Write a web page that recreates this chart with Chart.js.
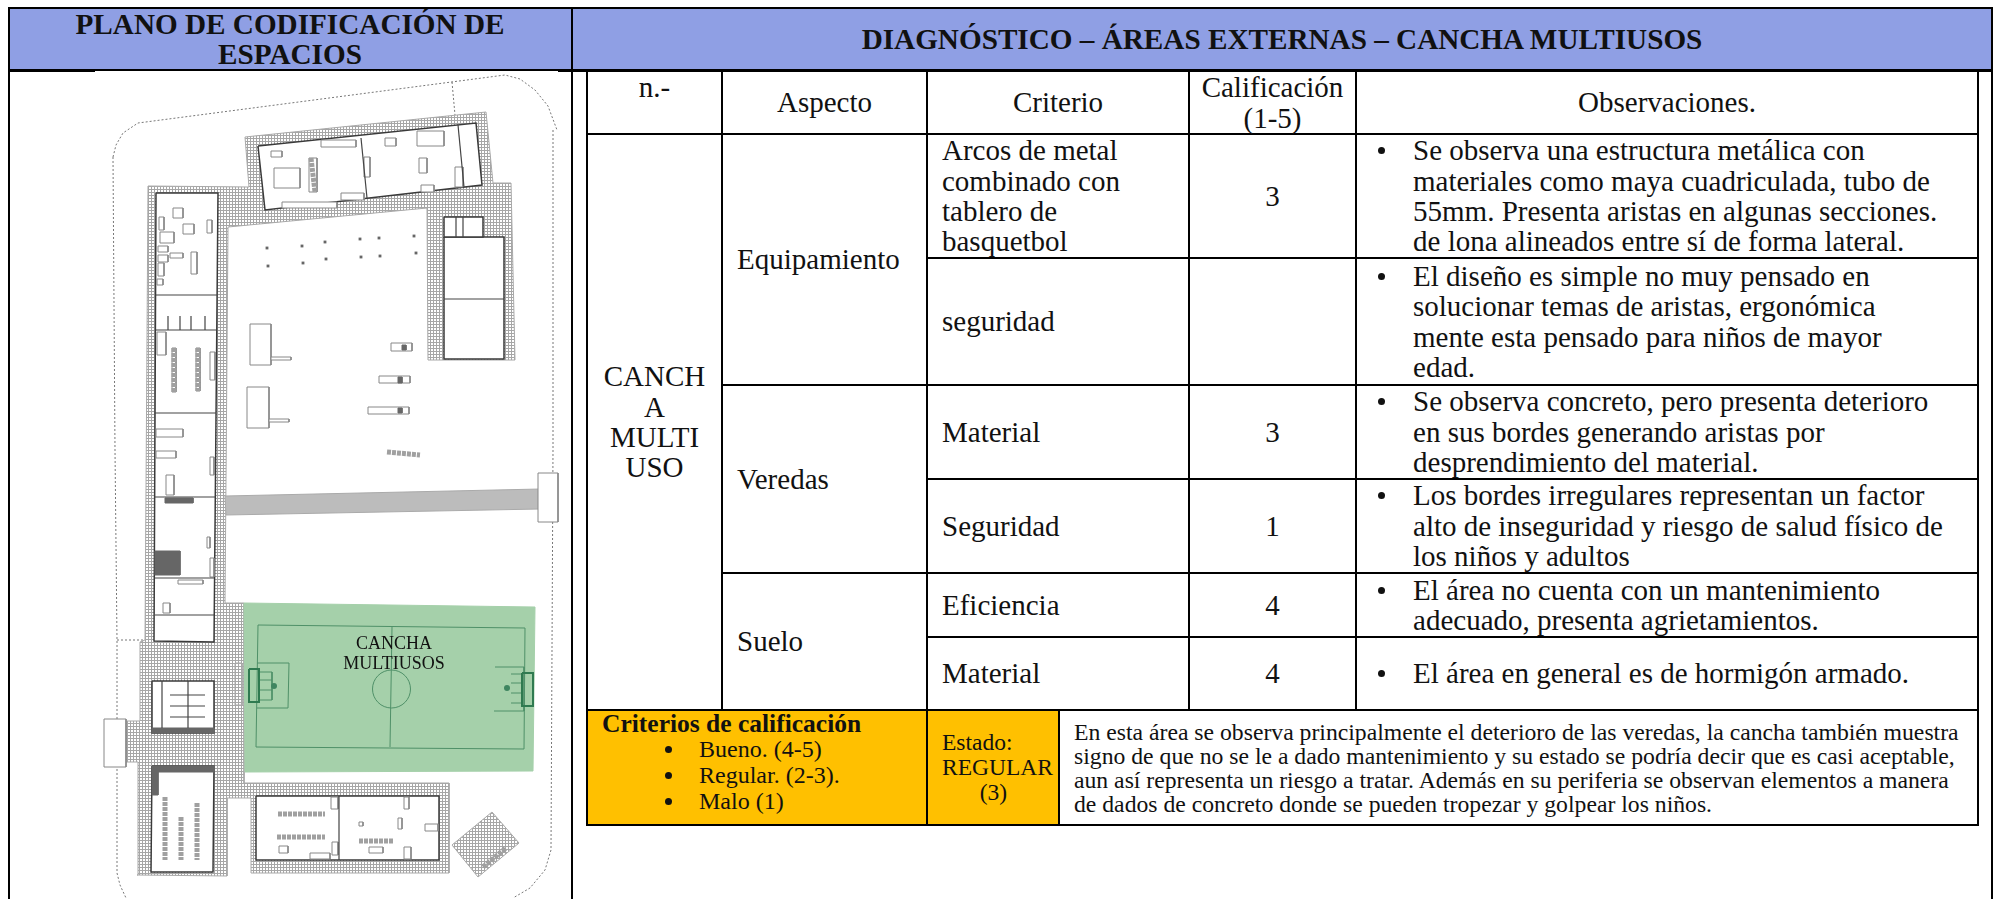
<!DOCTYPE html>
<html>
<head>
<meta charset="utf-8">
<title>Diagnóstico – Cancha multiusos</title>
<script src="https://cdn.jsdelivr.net/npm/chart.js@4"></script>
<style>
  html, body { margin: 0; padding: 0; background: #fff; }
  body { width: 1993px; height: 899px; position: relative; overflow: hidden; font-family: "Liberation Serif", serif; color: #111; }
  .abs { position: absolute; }
  .head { background: #8f9fe4; font-weight: bold; text-align: center; display: flex; align-items: center; justify-content: center; white-space: nowrap; top: 8px; height: 62px; }
  #headLeft { left: 8px; width: 564px; font-size: 29.2px; line-height: 30px; }
  #headRight { left: 572px; width: 1420px; font-size: 29.2px; }
  #lineTop { left: 8px; top: 7px; width: 1985px; height: 2px; background: #000; }
  #lineHead { left: 8px; top: 69px; width: 1985px; height: 3px; background: #000; }
  #lineThin { left: 95px; top: 71px; width: 463px; height: 1px; background: #fff; }
  #lineLeft { left: 8px; top: 7px; width: 2px; height: 892px; background: #000; }
  #lineMid { left: 571px; top: 7px; width: 2px; height: 892px; background: #000; }
  #lineRight { left: 1991px; top: 7px; width: 2px; height: 892px; background: #000; }
  #planWrap { left: 10px; top: 72px; width: 561px; height: 827px; }
  #courtLabel { left: 334px; top: 633px; width: 120px; text-align: center; font-size: 18px; line-height: 20px; }
  table { position: absolute; left: 586px; top: 70px; border-collapse: collapse; table-layout: fixed; width: 1391px; font-size: 29px; line-height: 30.4px; }
  td { border: 2px solid #000; padding: 0; vertical-align: middle; white-space: nowrap; }
  .c { text-align: center; }
  .l { padding-left: 14px; }
  .obs { padding-left: 56px; }
  .obs div { position: relative; }
  .obs div::before { content: ""; position: absolute; left: -35px; top: 12px; width: 7px; height: 7px; border-radius: 50%; background: #111; }
  .orange { background: #ffc000; font-size: 23.5px; line-height: 25px; }
  .estado { width: 103px; text-align: center; }
  .estado span { display: block; text-align: left; }
  .note { font-size: 23.7px; line-height: 24px; padding-left: 14px; }
  .crit { padding-left: 14px; vertical-align: top; }
  .crit b { display: block; font-size: 25.5px; line-height: 25px; }
  .crit div { position: relative; padding-left: 97px; font-size: 24px; line-height: 26px; }
  .crit div::before { content: ""; position: absolute; left: 63px; top: 10px; width: 7px; height: 7px; border-radius: 50%; background: #111; }
</style>
</head>
<body>
<div class="abs head" id="headLeft">PLANO DE CODIFICACIÓN DE<br>ESPACIOS</div>
<div class="abs head" id="headRight">DIAGNÓSTICO – ÁREAS EXTERNAS – CANCHA MULTIUSOS</div>
<div class="abs" id="lineTop"></div>
<div class="abs" id="lineHead"></div>
<div class="abs" id="lineThin"></div>
<div class="abs" id="lineLeft"></div>
<div class="abs" id="lineMid"></div>
<div class="abs" id="lineRight"></div>
<div class="abs" id="planWrap"><canvas id="planChart"></canvas></div>
<div class="abs" id="courtLabel">CANCHA<br>MULTIUSOS</div>
<table id="tabla"></table>

<script>
// textos de la tabla
var columnas = ['n.-', 'Aspecto', 'Criterio', 'Calificación<br>(1-5)', 'Observaciones.'];
var lugar = 'CANCH<br>A<br>MULTI<br>USO';
var aspectos = ['Equipamiento', 'Veredas', 'Suelo'];
var aspectoFilas = [2, 2, 2];
var criterios = ['Arcos de metal<br>combinado con<br>tablero de<br>basquetbol', 'seguridad', 'Material', 'Seguridad', 'Eficiencia', 'Material'];
var calificaciones = [3, null, 3, 1, 4, 4];
var observaciones = [
  'Se observa una estructura metálica con<br>materiales como maya cuadriculada, tubo de<br>55mm. Presenta aristas en algunas secciones.<br>de lona alineados entre sí de forma lateral.',
  'El diseño es simple no muy pensado en<br>solucionar temas de aristas, ergonómica<br>mente esta pensado para niños de mayor<br>edad.',
  'Se observa concreto, pero presenta deterioro<br>en sus bordes generando aristas por<br>desprendimiento del material.',
  'Los bordes irregulares representan un factor<br>alto de inseguridad y riesgo de salud físico de<br>los niños y adultos',
  'El área no cuenta con un mantenimiento<br>adecuado, presenta agrietamientos.',
  'El área en general es de hormigón armado.'
];
var alturasFila = [63, 124, 127, 94, 94, 64, 73];
var criteriosTitulo = 'Criterios de calificación';
var criteriosLista = ['Bueno. (4-5)', 'Regular. (2-3).', 'Malo (1)'];
var estado = '<span>Estado:</span><span>REGULAR</span>(3)';
var nota = 'En esta área se observa principalmente el deterioro de las veredas, la cancha también muestra<br>signo de que no se le a dado mantenimiento y su estado se podría decir que es casi aceptable,<br>aun así representa un riesgo a tratar. Además en su periferia se observan elementos a manera<br>de dados de concreto donde se pueden tropezar y golpear los niños.';

// plano, en unidades del dibujo
var cercoPlano = [
  [[113,157],[116,145],[123,133],[138,123],[505,75],[520,79],[535,90],[548,106],[557,130]],
  [[113,157],[115,450],[117,640],[117,873],[120,885],[126,898]],
  [[553,130],[553,450],[551,850],[545,870],[530,888],[513,898]],
  [[452,82],[455,115]],
  [[117,640],[145,640]]
];
var veredaPlano = [
  [[148,186],[249,187],[245,137],[486,112],[493,183],[511,183],[515,360],[428,360],[427,208],[228,227],[225,603],[244,603],[244,783],[449,783],[449,873],[251,873],[251,798],[227,798],[227,876],[137,875],[138,762],[126,762],[126,721],[140,721],[140,642],[145,640]],
  [[492,812],[519,843],[478,877],[452,845]],
  [[235,663],[242,663],[242,705],[235,705]]
];
var caminoPlano = [[225,496],[540,489],[540,509],[226,515]];
var edificiosPlano = [
  [[258,146],[476,123],[482,185],[265,210]],
  [[156,193],[218,193],[214,642],[154,641]],
  [[444,237],[504,237],[504,359],[444,359]],
  [[152,681],[214,681],[214,733],[152,733]],
  [[152,766],[214,766],[213,872],[151,872]],
  [[256,796],[439,796],[439,860],[256,860]],
  [[444,217],[483,217],[483,237],[444,237]]
];
var murosPlano = [
  [[361,138],[367,198]],[[458,125],[464,187]],
  [[156,295],[217,295]],[[156,330],[216,330]],[[155,413],[216,413]],[[155,497],[215,497]],[[155,578],[214,578]],[[155,615],[214,615]],
  [[444,299],[504,299]],
  [[339,796],[339,860]],
  [[168,316],[168,330]],[[180,316],[180,330]],[[191,316],[191,330]],[[205,316],[205,330]],
  [[456,217],[456,237]],[[463,217],[463,237]],
  [[162,681],[162,728]],[[188,681],[188,728]],
  [[170,695],[205,695]],[[170,706],[205,706]],[[170,717],[205,717]]
];
var mueblesPlano = [
  [159,217,164,230],[160,232,174,243],[158,246,168,252],[158,255,168,262],[158,263,164,276],[170,253,183,258],[191,252,197,274],[207,220,212,233],[157,279,163,285],
  [173,208,183,218],[183,224,194,234],[172,348,176,392],[196,348,200,391],[157,332,166,355],[210,352,215,380],
  [156,429,183,437],[156,451,176,458],[166,475,174,495],[210,457,214,475],[207,537,210,548],[210,558,214,577],[178,580,203,584],[163,603,170,613],
  [274,168,300,188],[309,158,317,192],[271,151,282,157],[321,140,356,147],[417,131,444,146],[385,138,396,146],[419,158,427,173],[364,157,370,177],[421,185,434,192],[282,202,337,208],[341,193,364,200],[455,167,463,187],
  [310,853,330,859],[332,842,338,855],[425,824,438,831],[404,847,411,859],[369,847,383,853],[279,846,288,853],[331,797,338,809],[404,797,409,809],[398,818,402,829],[359,822,363,826],
  [250,324,271,365],[271,357,291,360],[247,387,269,428],[269,419,289,422],[391,343,412,351],[379,376,410,383],[368,407,409,414],
  [104,719,126,767],[538,473,558,522]
];
var macizosPlano = [
  [155,551,180,575],[165,498,193,503],[152,728,214,733],[152,766,214,772],[152,772,158,795],[402,345,406,350],[398,377,402,383],[398,408,402,413]
];
var filasPlano = [
  [[165,797],[165,860]],[[181,817],[181,860]],[[197,803],[197,860]],
  [[278,814],[325,814]],[[277,837],[325,837]],[[359,841],[394,841]],
  [[311,158],[315,192]],[[174,348],[174,392]],[[198,348],[198,391]],[[387,452],[420,455]],[[483,867],[506,848]]
];
var columnasPlano = [[267,248],[268,266],[302,246],[303,263],[325,242],[326,259],[360,239],[361,257],[379,238],[380,256],[414,236],[416,253]];
var campoPlano = [[244,603],[535,607],[533,771],[245,772]];
var lineasCampo = [
  [[258,625],[525,628],[524,749],[256,747],[258,625]],
  [[392,627],[390,747]],
  [[257,663],[289,663],[288,708],[257,708]],
  [[495,667],[524,667],[524,711],[494,711]],
  [[259,672],[272,672],[272,700],[259,700]],
  [[259,680],[272,680]],[[259,690],[272,690]],
  [[511,674],[522,674],[522,703],[511,703]],
  [[511,683],[522,683]],[[511,693],[522,693]]
];
var arcosCampo = [[249,669,259,702],[522,673,533,706]];
var centroCampo = [[391.5,689]];
var puntosCampo = [[274,686],[507,688]];

// armar la tabla
var html = '<colgroup><col style="width:135px"><col style="width:205px"><col style="width:132px"><col style="width:130px"><col style="width:167px"><col style="width:622px"></colgroup>';
html += '<tr style="height:' + alturasFila[0] + 'px"><td class="c" style="vertical-align:top">' + columnas[0] + '</td><td class="c">' + columnas[1] + '</td><td class="c" colspan="2">' + columnas[2] + '</td><td class="c">' + columnas[3] + '</td><td class="c">' + columnas[4] + '</td></tr>';
var k = 0;
for (var i = 0; i < criterios.length; i++) {
  html += '<tr style="height:' + alturasFila[i + 1] + 'px">';
  if (i == 0) html += '<td class="c" rowspan="' + criterios.length + '">' + lugar + '</td>';
  if (i % 2 == 0) {
    html += '<td class="l" rowspan="' + aspectoFilas[k] + '">' + aspectos[k] + '</td>';
    k++;
  }
  html += '<td class="l" colspan="2">' + criterios[i] + '</td>';
  html += '<td class="c">' + (calificaciones[i] === null ? '' : calificaciones[i]) + '</td>';
  html += '<td class="obs"><div>' + observaciones[i] + '</div></td></tr>';
}
var lista = '';
criteriosLista.forEach(function (t) { lista += '<div>' + t + '</div>'; });
html += '<tr style="height:115px"><td class="orange crit" colspan="2"><b>' + criteriosTitulo + '</b>' + lista + '</td>';
html += '<td class="orange l"><div class="estado">' + estado + '</div></td><td class="note" colspan="3">' + nota + '</td></tr>';
document.getElementById('tabla').innerHTML = html;

// trama de la vereda
function trama(paso, color) {
  var c = document.createElement('canvas');
  c.width = paso; c.height = paso;
  var g = c.getContext('2d');
  g.fillStyle = '#fff'; g.fillRect(0, 0, paso, paso);
  g.fillStyle = color;
  g.fillRect(0, 0, paso, 1);
  g.fillRect(0, 0, 1, paso);
  return g.createPattern(c, 'repeat');
}
var tramaVereda = trama(3, '#a6a6a6');

function puntos(lista) {
  return lista.map(function (p) { return { x: p[0], y: p[1] }; });
}
function caja(b) {
  return [[b[0], b[1]], [b[2], b[1]], [b[2], b[3]], [b[0], b[3]], [b[0], b[1]]];
}
function cerrado(lista) {
  return lista.concat([lista[0]]);
}

// en orden de dibujo, el ultimo queda encima
var capas = [];
function trazo(lista, color, ancho, relleno, guiones) {
  capas.push({
    data: puntos(lista), showLine: true, pointRadius: 0, tension: 0,
    borderColor: color, borderWidth: ancho, borderDash: guiones || [],
    fill: relleno ? 'shape' : false, backgroundColor: relleno || 'transparent'
  });
}
cercoPlano.forEach(function (l) { trazo(l, '#777', 1, null, [2, 2]); });
veredaPlano.forEach(function (l) { trazo(cerrado(l), '#a8a8a8', 1, tramaVereda); });
trazo(cerrado(caminoPlano), '#aaa', 1, '#bcbcbc');
edificiosPlano.forEach(function (l) { trazo(cerrado(l), '#3a3a3a', 1.5, '#fff'); });
mueblesPlano.forEach(function (b) { trazo(caja(b), '#888', 1, '#fff'); });
macizosPlano.forEach(function (b) { trazo(caja(b), '#666', 1, '#666'); });
murosPlano.forEach(function (l) { trazo(l, '#444', 1.2); });
filasPlano.forEach(function (l) { trazo(l, '#a0a0a0', 5, null, [4, 1]); });
capas.push({ data: puntos(columnasPlano), showLine: false, pointStyle: 'rect', pointRadius: 2, backgroundColor: '#666', borderWidth: 0 });
trazo(cerrado(campoPlano), '#a5d0aa', 1, '#a5d0aa');
lineasCampo.forEach(function (l) { trazo(l, '#4f9068', 1); });
arcosCampo.forEach(function (b) { trazo(caja(b), '#2f7a50', 2); });
capas.push({ data: puntos(centroCampo), showLine: false, pointStyle: 'circle', pointRadius: 19, backgroundColor: 'transparent', borderColor: '#4f9068', borderWidth: 1 });
capas.push({ data: puntos(puntosCampo), showLine: false, pointStyle: 'circle', pointRadius: 3, backgroundColor: '#3f8560', borderWidth: 0 });

// Chart.js dibuja primero el ultimo dataset
capas.reverse();

var ctx = document.getElementById('planChart').getContext('2d');
var planChart = new Chart(ctx, {
  type: 'scatter',
  data: { datasets: capas },
  options: {
    responsive: true,
    maintainAspectRatio: false,
    animation: false,
    layout: { padding: 0, autoPadding: false },
    plugins: { legend: { display: false }, tooltip: { enabled: false } },
    scales: {
      x: { type: 'linear', min: 10, max: 571, display: false },
      y: { type: 'linear', min: 72, max: 899, reverse: true, display: false }
    }
  }
});
</script>
</body>
</html>
